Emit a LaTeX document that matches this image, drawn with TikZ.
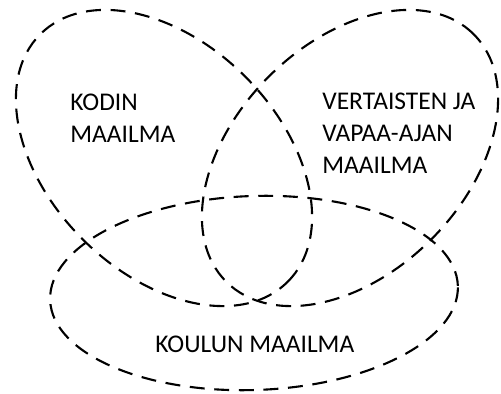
\documentclass[tikz,border=0pt]{standalone}
\usepackage{fontspec}
\setmainfont{Carlito}
\tikzset{
    worldline/.style={line width=1.2pt, dash pattern=on 8.5pt off 5.5pt},
    worldtext/.style={anchor=base west, align=left, inner sep=0pt, font=\fontsize{14.5}{18}\selectfont}
}
\begin{document}
\begin{tikzpicture}[x=0.02cm, y=0.02cm]
    \useasboundingbox (0,0) rectangle (501,393);
    
    % Home world
    \draw[worldline, rotate around={-45:(164,235)}] (164,235) ellipse (175 and 115);
    
    % Peers and leisure world
    \draw[worldline, rotate around={45:(350,235)}] (350,235) ellipse (175 and 115);
    
    % School world
    \draw[worldline, rotate around={2:(254,100)}] (254,100) ellipse (204 and 97);
    
    % Labels
    \node[worldtext] (kodin) at (70,251) {KODIN\\MAAILMA};
    \node[worldtext] (vertaisten) at (322,220) {VERTAISTEN JA\\VAPAA-AJAN\\MAAILMA};
    \node[worldtext] (koulun) at (155,41) {KOULUN MAAILMA};
\end{tikzpicture}
\end{document}
